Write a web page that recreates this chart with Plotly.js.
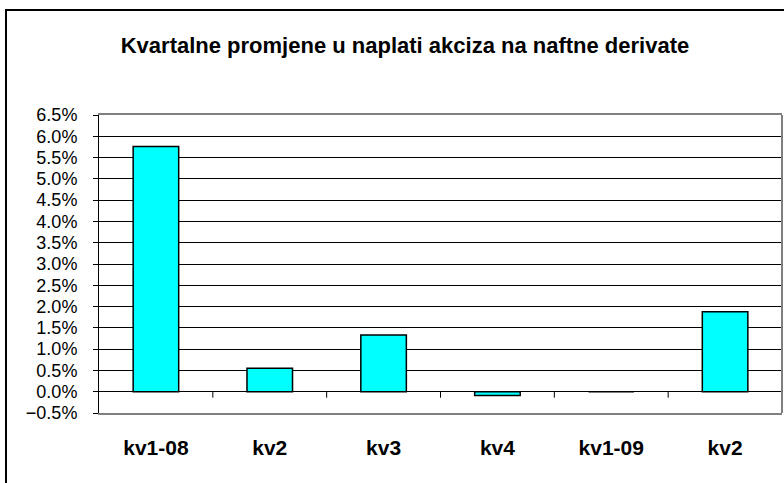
<!DOCTYPE html>
<html>
<head>
<meta charset="utf-8">
<script src="https://cdn.plot.ly/plotly-3.0.1.min.js"></script>
<style>
html,body{margin:0;padding:0;background:#fff;}
#wrap{position:relative;width:784px;height:483px;overflow:hidden;}
#chart{width:784px;height:483px;}
#frame{position:absolute;left:5px;top:9px;width:800px;height:500px;border:2px solid #000;pointer-events:none;}
</style>
</head>
<body>
<div id="wrap"><div id="chart"></div><div id="frame"></div></div>
<script>
const categories = ["kv1-08", "kv2", "kv3", "kv4", "kv1-09", "kv2 "];
const tickLabels = ["kv1-08", "kv2", "kv3", "kv4", "kv1-09", "kv2"];
const values = [0.0576, 0.0055, 0.0133, -0.0009, 0.0, 0.0188];
const yRange = [-0.005, 0.065];
const chartTitle = "Kvartalne promjene u naplati akciza na naftne derivate";

const boundaryTicks = categories.slice(0, -1).map((c, i) => ({
  type: 'line', xref: 'x', yref: 'y', ysizemode: 'pixel', yanchor: 0,
  x0: i + 0.5, x1: i + 0.5, y0: 0, y1: -6,
  line: {color: '#000', width: 1}, layer: 'above'
}));

const data = [{
  type: 'bar',
  x: categories,
  y: values,
  marker: {color: '#00FFFF', line: {color: '#000', width: 1.5}},
  hoverinfo: 'none'
}];

const layout = {
  width: 784, height: 483,
  margin: {l: 99, r: 2, t: 115, b: 70},
  paper_bgcolor: '#fff', plot_bgcolor: '#fff',
  showlegend: false,
  bargap: 0.6,
  title: {
    text: '<b>' + chartTitle + '</b>',
    font: {family: 'Liberation Sans, Arial, sans-serif', size: 22, color: '#000'},
    x: 405/784, xanchor: 'center', xref: 'container',
    y: 1 - 45/483, yanchor: 'middle', yref: 'container'
  },
  xaxis: {
    type: 'category',
    tickvals: categories, ticktext: tickLabels.map(t => '<b>' + t + '</b>'),
    ticks: '', showgrid: false, zeroline: false,
    showline: true, linecolor: '#808080', linewidth: 2, mirror: true,
    ticklabelstandoff: 15,
    tickfont: {family: 'Liberation Sans, Arial, sans-serif', size: 21, color: '#000'},
    range: [-0.5, categories.length - 0.5],
    fixedrange: true
  },
  yaxis: {
    range: yRange, dtick: 0.005, tick0: 0,
    tickformat: '.1%',
    showgrid: true, gridcolor: '#000', gridwidth: 1,
    zeroline: true, zerolinecolor: '#000', zerolinewidth: 1,
    showline: true, linecolor: '#000', linewidth: 1,
    ticks: 'outside', ticklen: 5, tickcolor: '#000', tickwidth: 1,
    ticklabelstandoff: 12,
    tickfont: {family: 'Liberation Sans, Arial, sans-serif', size: 18, color: '#000'},
    fixedrange: true
  },
  shapes: boundaryTicks.concat([{
    type: 'line', xref: 'paper', yref: 'paper', x0: 1, x1: 1, y0: 0, y1: 1,
    line: {color: '#808080', width: 2}, layer: 'above'
  }])
};

Plotly.newPlot('chart', data, layout, {displayModeBar: false, staticPlot: true});
</script>
</body>
</html>
